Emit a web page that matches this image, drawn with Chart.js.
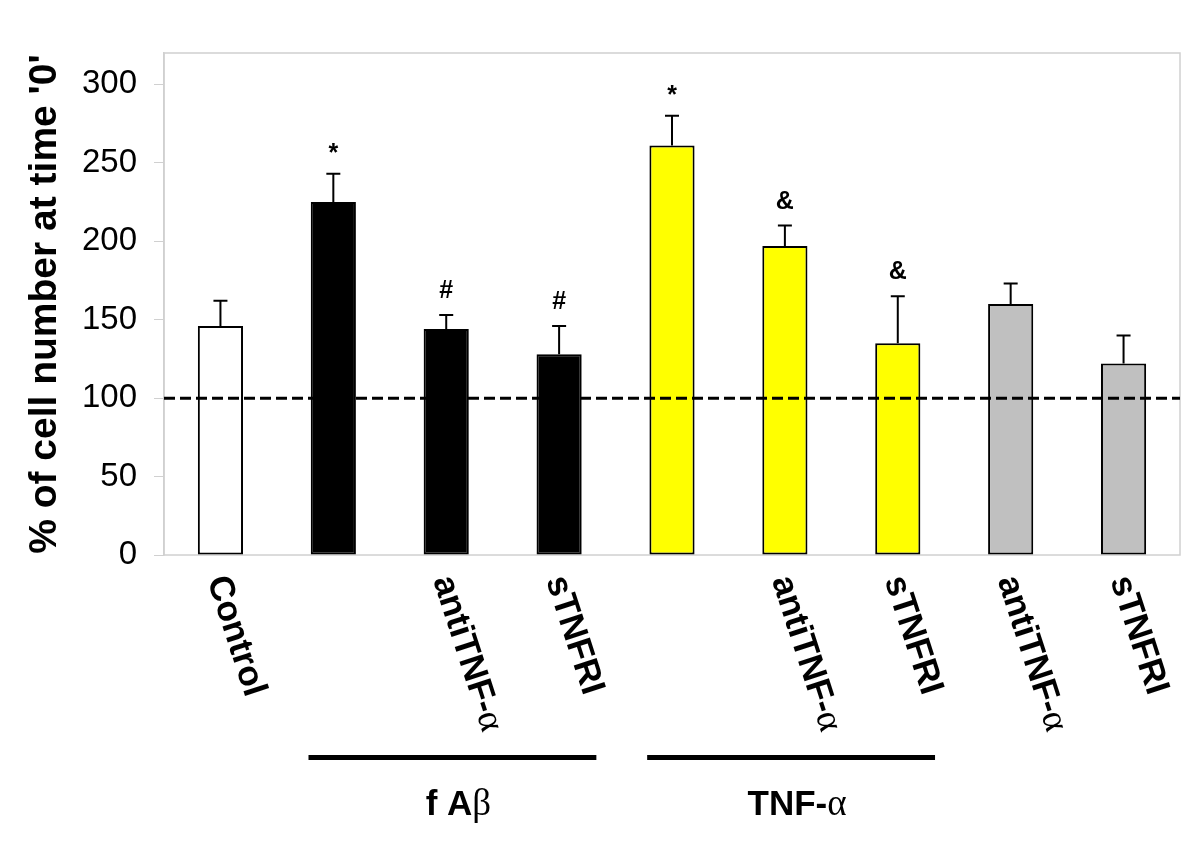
<!DOCTYPE html>
<html>
<head>
<meta charset="utf-8">
<script src="https://cdn.jsdelivr.net/npm/chart.js@4.4.1/dist/chart.umd.min.js"></script>
<style>
html, body { margin: 0; padding: 0; background: #fff; }
</style>
</head>
<body>
<canvas id="cells" width="1200" height="850"></canvas>
<script>
'use strict'

// --- data ---
var labels = ['Control', '', 'antiTNF-α', 'sTNFRI', '', 'antiTNF-α', 'sTNFRI', 'antiTNF-α', 'sTNFRI'];
var means = [146, 225, 144, 128, 261, 197, 135, 160, 122];
var errs = [16, 18, 9, 18, 19, 13, 30, 13, 18];
var marks = ['', '*', '#', '#', '*', '&', '&', '', ''];
var fills = ['#ffffff', '#000000', '#000000', '#000000', '#ffff00', '#ffff00', '#ffff00', '#c0c0c0', '#c0c0c0'];
var yTicks = [0, 50, 100, 150, 200, 250, 300];
var baseline = 100;
var groups = [
  {text: 'f A', greek: 'β', from: 1, to: 3},
  {text: 'TNF-', greek: 'α', from: 4, to: 6}
];

var SANS = '"Liberation Sans", Arial, sans-serif';
var SERIF = '"Liberation Serif", "DejaVu Serif", serif';
var GREY = '#d0d0d0';

// draws "text" in bold sans, with a trailing greek letter in thin serif
function mixedText(ctx, str, x, y, size) {
  var last = str.slice(-1);
  var greek = /[α-ω]/.test(last);
  var head = greek ? str.slice(0, -1) : str;
  ctx.font = 'bold ' + size + 'px ' + SANS;
  ctx.fillText(head, x, y);
  if (greek) {
    var w = ctx.measureText(head).width;
    ctx.font = (size + 2) + 'px ' + SERIF;
    ctx.fillText(last, x + w, y);
  }
}

var decor = {
  id: 'decor',
  beforeDatasetsDraw(chart) {
    var ctx = chart.ctx, a = chart.chartArea;
    ctx.save();
    ctx.strokeStyle = GREY;
    ctx.lineWidth = 1.5;
    ctx.strokeRect(a.left, a.top, a.right - a.left, a.bottom - a.top);
    ctx.restore();
  },
  afterDatasetsDraw(chart) {
    var ctx = chart.ctx, a = chart.chartArea, y = chart.scales.y;
    var meta = chart.getDatasetMeta(0);
    ctx.save();
    ctx.strokeStyle = '#000';
    ctx.fillStyle = '#000';
    ctx.lineWidth = 2;
    means.forEach(function (m, i) {
      var bx = meta.data[i].x;
      var y0 = y.getPixelForValue(m);
      var y1 = y.getPixelForValue(m + errs[i]);
      ctx.beginPath();
      ctx.moveTo(bx, y0);
      ctx.lineTo(bx, y1);
      ctx.moveTo(bx - 7, y1);
      ctx.lineTo(bx + 7, y1);
      ctx.stroke();
      if (marks[i]) {
        // centre the glyph itself about 26px above the cap
        ctx.font = 'bold 25px ' + SANS;
        ctx.textAlign = 'center';
        ctx.textBaseline = 'alphabetic';
        var mt = ctx.measureText(marks[i]);
        var mid = (mt.actualBoundingBoxAscent - mt.actualBoundingBoxDescent) / 2;
        ctx.fillText(marks[i], bx, y1 - 26 + mid);
      }
    });
    // dashed 100% line
    var yb = y.getPixelForValue(baseline);
    ctx.setLineDash([11, 5]);
    ctx.lineWidth = 3;
    ctx.beginPath();
    ctx.moveTo(a.left, yb);
    ctx.lineTo(a.right, yb);
    ctx.stroke();
    ctx.restore();
  },
  afterDraw(chart) {
    var ctx = chart.ctx, x = chart.scales.x;
    var angle = 72 * Math.PI / 180;
    ctx.save();
    ctx.fillStyle = '#000';
    ctx.textAlign = 'left';
    ctx.textBaseline = 'middle';
    labels.forEach(function (lab, i) {
      if (!lab) return;
      var cx = x.getPixelForValue(i);
      ctx.save();
      ctx.translate(cx - 4, 577);
      ctx.rotate(angle);
      mixedText(ctx, lab, 0, 0, 35);
      ctx.restore();
    });
    // group bars and names
    ctx.textBaseline = 'alphabetic';
    groups.forEach(function (g) {
      var step = x.getPixelForValue(1) - x.getPixelForValue(0);
      var x0 = x.getPixelForValue(g.from) - 0.22 * step;
      var x1 = x.getPixelForValue(g.to) + 0.33 * step;
      ctx.fillRect(x0, 755, x1 - x0, 5);
      ctx.font = 'bold 35px ' + SANS;
      var w1 = ctx.measureText(g.text).width;
      ctx.font = '37px ' + SERIF;
      var w2 = ctx.measureText(g.greek).width;
      var start = (x0 + x1) / 2 + 6 - (w1 + w2) / 2;
      mixedText(ctx, g.text + g.greek, start, 815, 35);
    });
    ctx.restore();
  }
};

var ctx = document.getElementById('cells');
var mychart = new Chart(ctx, {
  type: 'bar',
  data: {
    labels: labels,
    datasets: [{
      label: '% of cell number',
      data: means,
      backgroundColor: fills,
      borderColor: '#000',
      borderWidth: 2,
      borderSkipped: false,
      categoryPercentage: 1,
      barPercentage: 0.4
    }]
  },
  options: {
    responsive: false,
    animation: false,
    layout: {padding: {top: 53, right: 20, left: 0, bottom: 0}},
    plugins: {legend: {display: false}, tooltip: {enabled: false}},
    scales: {
      x: {
        ticks: {display: false},
        grid: {display: false},
        border: {display: false},
        afterFit: function (s) { s.height = 295; }
      },
      y: {
        min: 0,
        max: 320,
        afterFit: function (s) { s.width = 164; },
        afterBuildTicks: function (s) { s.ticks = yTicks.map(function (v) { return {value: v}; }); },
        ticks: {
          color: '#000',
          padding: 17,
          font: {family: SANS, size: 33}
        },
        grid: {drawOnChartArea: false, drawTicks: true, tickLength: 10, color: GREY},
        border: {color: GREY, width: 1.5},
        title: {
          display: true,
          text: "% of cell number at time '0'",
          color: '#000',
          font: {family: SANS, size: 39, weight: 'bold'},
          padding: {top: 22, bottom: 0}
        }
      }
    }
  },
  plugins: [decor]
});
</script>
</body>
</html>
